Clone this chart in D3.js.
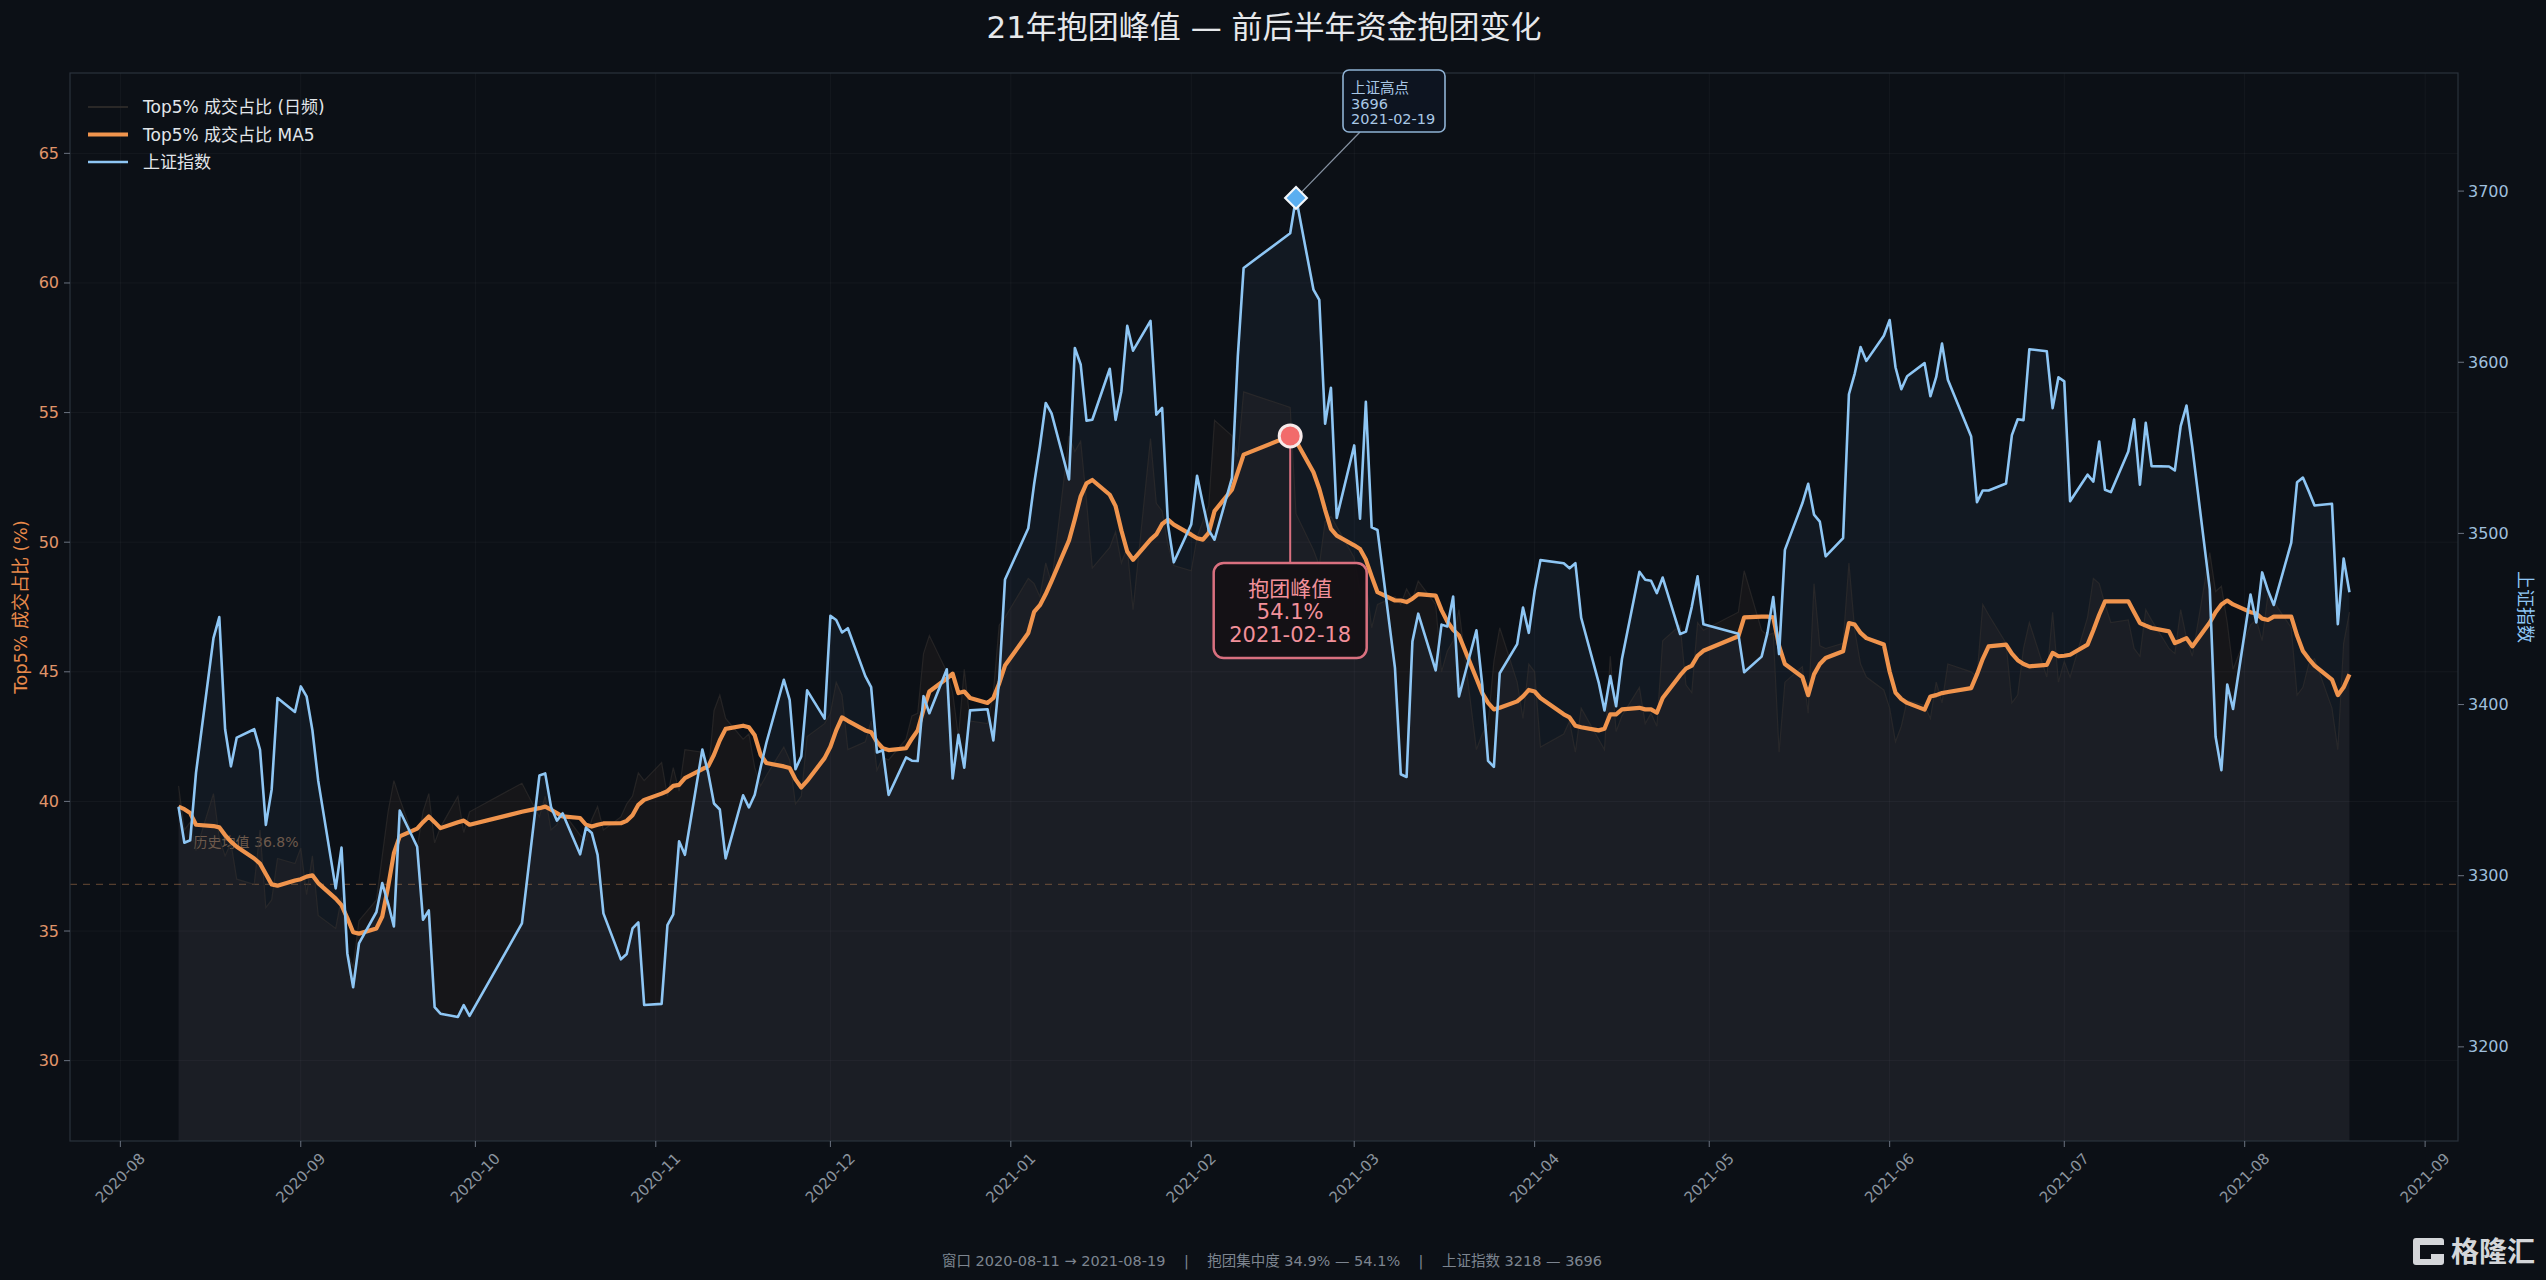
<!DOCTYPE html>
<html>
<head>
<meta charset="utf-8">
<script src="https://cdn.jsdelivr.net/npm/d3@7"></script>
<style>
body { margin: 0; background: #0c1016; }
text { font-family: "DejaVu Sans", "Noto Sans CJK SC", sans-serif; }
</style>
</head>
<body>
<script>
var w = 2546;
var h = 1280;
var plot = {left: 70, right: 2458, top: 73, bottom: 1141};

// trading days, 2020-08-11 .. 2021-08-19
var dates = [
"2020-08-11","2020-08-12","2020-08-13","2020-08-14","2020-08-17","2020-08-18","2020-08-19","2020-08-20","2020-08-21","2020-08-24","2020-08-25","2020-08-26","2020-08-27","2020-08-28","2020-08-31",
"2020-09-01","2020-09-02","2020-09-03","2020-09-04","2020-09-07","2020-09-08","2020-09-09","2020-09-10","2020-09-11","2020-09-14","2020-09-15","2020-09-16","2020-09-17","2020-09-18","2020-09-21","2020-09-22","2020-09-23","2020-09-24","2020-09-25","2020-09-28","2020-09-29","2020-09-30",
"2020-10-09","2020-10-12","2020-10-13","2020-10-14","2020-10-15","2020-10-16","2020-10-19","2020-10-20","2020-10-21","2020-10-22","2020-10-23","2020-10-26","2020-10-27","2020-10-28","2020-10-29","2020-10-30",
"2020-11-02","2020-11-03","2020-11-04","2020-11-05","2020-11-06","2020-11-09","2020-11-10","2020-11-11","2020-11-12","2020-11-13","2020-11-16","2020-11-17","2020-11-18","2020-11-19","2020-11-20","2020-11-23","2020-11-24","2020-11-25","2020-11-26","2020-11-27","2020-11-30",
"2020-12-01","2020-12-02","2020-12-03","2020-12-04","2020-12-07","2020-12-08","2020-12-09","2020-12-10","2020-12-11","2020-12-14","2020-12-15","2020-12-16","2020-12-17","2020-12-18","2020-12-21","2020-12-22","2020-12-23","2020-12-24","2020-12-25","2020-12-28","2020-12-29","2020-12-30","2020-12-31",
"2021-01-04","2021-01-05","2021-01-06","2021-01-07","2021-01-08","2021-01-11","2021-01-12","2021-01-13","2021-01-14","2021-01-15","2021-01-18","2021-01-19","2021-01-20","2021-01-21","2021-01-22","2021-01-25","2021-01-26","2021-01-27","2021-01-28","2021-01-29",
"2021-02-01","2021-02-02","2021-02-03","2021-02-04","2021-02-05","2021-02-08","2021-02-09","2021-02-10","2021-02-18","2021-02-19","2021-02-22","2021-02-23","2021-02-24","2021-02-25","2021-02-26",
"2021-03-01","2021-03-02","2021-03-03","2021-03-04","2021-03-05","2021-03-08","2021-03-09","2021-03-10","2021-03-11","2021-03-12","2021-03-15","2021-03-16","2021-03-17","2021-03-18","2021-03-19","2021-03-22","2021-03-23","2021-03-24","2021-03-25","2021-03-26","2021-03-29","2021-03-30","2021-03-31",
"2021-04-01","2021-04-02","2021-04-06","2021-04-07","2021-04-08","2021-04-09","2021-04-12","2021-04-13","2021-04-14","2021-04-15","2021-04-16","2021-04-19","2021-04-20","2021-04-21","2021-04-22","2021-04-23","2021-04-26","2021-04-27","2021-04-28","2021-04-29","2021-04-30",
"2021-05-06","2021-05-07","2021-05-10","2021-05-11","2021-05-12","2021-05-13","2021-05-14","2021-05-17","2021-05-18","2021-05-19","2021-05-20","2021-05-21","2021-05-24","2021-05-25","2021-05-26","2021-05-27","2021-05-28","2021-05-31",
"2021-06-01","2021-06-02","2021-06-03","2021-06-04","2021-06-07","2021-06-08","2021-06-09","2021-06-10","2021-06-11","2021-06-15","2021-06-16","2021-06-17","2021-06-18","2021-06-21","2021-06-22","2021-06-23","2021-06-24","2021-06-25","2021-06-28","2021-06-29","2021-06-30",
"2021-07-01","2021-07-02","2021-07-05","2021-07-06","2021-07-07","2021-07-08","2021-07-09","2021-07-12","2021-07-13","2021-07-14","2021-07-15","2021-07-16","2021-07-19","2021-07-20","2021-07-21","2021-07-22","2021-07-23","2021-07-26","2021-07-27","2021-07-28","2021-07-29","2021-07-30",
"2021-08-02","2021-08-03","2021-08-04","2021-08-05","2021-08-06","2021-08-09","2021-08-10","2021-08-11","2021-08-12","2021-08-13","2021-08-16","2021-08-17","2021-08-18","2021-08-19"
];

// 上证指数 close
var shIndex = [
3340.3,3319.3,3320.7,3360.1,3438.8,3451.1,3385.6,3363.9,3380.7,3385.6,3373.6,3329.7,3350.4,3403.8,3395.7,
3410.6,3404.8,3385.0,3355.4,3292.6,3316.4,3254.6,3234.8,3260.4,3278.8,3295.7,3283.9,3270.4,3338.1,3316.9,3274.3,3279.7,3223.2,3219.4,3217.5,3224.4,3218.1,
3272.1,3358.5,3359.8,3340.2,3332.2,3336.4,3312.5,3328.1,3325.0,3312.2,3278.0,3251.1,3254.3,3269.2,3272.7,3224.5,
3225.1,3271.1,3277.4,3320.1,3312.2,3373.7,3360.2,3342.2,3338.7,3310.1,3347.0,3339.9,3347.3,3363.1,3377.7,3414.5,3402.8,3362.3,3369.7,3408.3,3391.8,
3451.9,3449.4,3442.1,3444.6,3416.6,3410.2,3372.0,3373.3,3347.2,3369.1,3367.2,3367.0,3404.9,3394.9,3420.6,3356.8,3382.3,3363.1,3396.6,3397.3,3379.0,3414.5,3473.1,
3503.0,3528.7,3550.9,3576.2,3570.1,3531.5,3608.3,3598.7,3565.9,3566.4,3596.2,3566.3,3583.1,3621.3,3606.8,3624.2,3569.4,3573.3,3505.2,3483.1,
3505.3,3533.7,3517.3,3501.9,3496.3,3532.4,3603.5,3655.1,3675.4,3696.2,3642.4,3636.4,3564.1,3585.1,3509.1,
3551.4,3508.6,3576.9,3503.5,3502.0,3421.4,3359.3,3357.7,3436.8,3453.1,3420.0,3446.7,3445.6,3463.1,3404.7,3443.4,3411.5,3367.1,3363.6,3418.3,3435.3,3456.7,3441.9,
3466.3,3484.4,3482.6,3479.6,3482.6,3450.7,3413.0,3396.5,3416.6,3399.0,3426.6,3477.6,3472.9,3472.3,3465.1,3474.2,3441.2,3442.6,3457.1,3474.9,3446.9,
3441.3,3418.9,3428.0,3441.9,3462.8,3429.5,3490.4,3517.6,3529.0,3511.0,3506.9,3486.6,3497.3,3581.3,3593.4,3608.9,3600.8,3615.5,
3624.7,3597.1,3584.2,3591.8,3599.5,3580.1,3591.4,3610.9,3589.8,3556.6,3518.3,3525.1,3525.1,3529.2,3557.4,3566.7,3566.2,3607.6,3606.4,3573.2,3591.2,
3588.8,3518.8,3534.3,3530.3,3553.7,3525.5,3524.1,3547.8,3566.7,3528.5,3564.6,3539.3,3539.1,3536.8,3562.7,3574.7,3550.4,3467.4,3381.2,3361.6,3411.7,3397.4,
3464.3,3448.0,3477.2,3466.6,3458.2,3494.6,3529.9,3532.6,3524.7,3516.3,3517.3,3447.0,3485.3,3465.6
];

// Top5% 成交占比 MA5 (%)
var ma5 = [
39.8,39.7,39.55,39.1,39.05,39.0,38.7,38.45,38.25,37.8,37.6,37.2,36.8,36.75,36.95,
37.0,37.1,37.15,36.85,36.25,36.0,35.5,34.95,34.9,35.1,35.56,36.7,38.0,38.65,38.95,39.2,39.42,39.2,38.97,39.2,39.26,39.1,
39.6,39.74,39.8,39.68,39.55,39.42,39.36,39.1,39.03,39.1,39.15,39.16,39.25,39.47,39.87,40.06,
40.3,40.4,40.6,40.64,40.9,41.25,41.35,41.8,42.36,42.8,42.92,42.86,42.55,41.8,41.48,41.35,41.29,40.85,40.54,40.79,41.67,
42.11,42.74,43.24,43.11,42.74,42.67,42.3,42.05,41.98,42.05,42.42,42.74,43.55,44.24,44.74,44.93,44.18,44.24,43.99,43.8,43.99,44.55,45.24,
46.5,47.31,47.57,48.0,48.5,50.07,50.89,51.77,52.27,52.4,51.83,51.39,50.45,49.64,49.32,50.1,50.3,50.7,50.87,50.68,
50.29,50.15,50.1,50.36,51.2,52.03,52.7,53.38,54.1,53.9,52.7,52.06,51.25,50.51,50.25,
49.88,49.74,49.33,48.68,48.07,47.75,47.75,47.69,47.82,48.0,47.94,47.38,46.94,46.62,46.4,44.74,44.18,43.8,43.55,43.61,43.86,44.05,44.3,
44.24,43.99,43.36,43.24,42.92,42.86,42.74,42.8,43.36,43.36,43.55,43.61,43.55,43.55,43.42,43.99,44.87,45.12,45.24,45.62,45.81,
46.37,47.1,47.13,47.13,47.1,46.0,45.3,44.8,44.1,44.9,45.3,45.53,45.79,46.88,46.82,46.5,46.3,46.05,
45.0,44.2,43.95,43.8,43.54,44.05,44.1,44.18,44.22,44.37,44.9,45.5,45.98,46.05,45.7,45.45,45.3,45.21,45.27,45.73,45.6,
45.62,45.66,46.05,46.6,47.2,47.72,47.72,47.72,47.3,46.88,46.78,46.69,46.56,46.11,46.2,46.3,45.98,46.9,47.3,47.6,47.75,47.6,
47.3,47.25,47.05,47.0,47.13,47.13,46.4,45.8,45.5,45.24,44.7,44.1,44.4,44.9
];

// Top5% 成交占比 daily (%)
var daily = [
40.6,38.9,39.2,38.1,40.3,38.6,37.9,38.4,37.0,36.8,38.9,35.9,36.2,37.8,37.6,
38.2,36.4,37.9,35.6,35.1,36.3,34.2,33.6,35.4,36.2,37.9,39.6,40.8,40.1,38.2,39.6,40.3,38.4,39.0,40.2,38.8,39.6,
40.7,39.4,40.2,38.9,39.1,39.6,38.7,38.5,39.3,39.8,38.9,39.4,39.9,40.2,41.1,40.8,
41.5,40.2,41.3,40.4,42.0,41.9,41.0,43.5,44.1,43.2,42.4,42.6,41.3,40.6,41.0,42.1,41.6,39.9,40.2,42.5,43.0,
43.4,44.6,44.1,42.0,42.3,43.1,41.2,41.7,41.6,42.4,43.3,43.4,45.7,46.4,45.0,44.2,42.5,45.1,43.1,43.0,44.2,46.8,47.1,
48.6,48.4,47.9,49.2,48.4,54.1,53.5,53.9,51.6,49.0,49.8,50.4,49.2,49.8,47.4,54.0,51.5,51.2,49.9,49.1,
48.9,50.2,50.8,51.4,54.7,54.1,53.3,55.8,55.2,51.1,49.7,49.1,50.8,51.0,50.6,
49.4,48.1,48.5,46.7,47.6,47.9,47.6,48.2,47.8,48.5,47.6,45.0,45.8,46.2,47.4,42.0,42.6,43.0,45.4,46.7,44.6,43.2,45.3,
45.0,42.1,42.6,43.1,41.9,43.6,42.4,42.0,45.6,42.7,43.3,44.4,43.0,43.4,42.9,46.2,46.8,44.5,44.2,46.9,46.6,
47.3,48.9,46.6,46.4,46.5,41.9,44.6,45.2,43.4,48.4,46.0,45.9,46.1,49.2,46.6,45.3,44.8,44.3,
43.6,42.3,42.9,43.9,43.7,43.2,44.6,43.8,45.3,45.0,44.8,47.6,47.2,46.1,43.8,44.1,45.9,46.9,44.8,47.3,44.6,
45.4,44.8,47.1,48.6,48.4,47.6,46.9,47.0,45.9,45.6,47.4,47.0,45.9,45.7,47.4,46.3,45.6,49.6,48.1,48.3,46.9,45.1,
46.8,47.0,46.2,48.0,47.7,46.7,44.1,44.4,45.3,45.5,43.6,42.0,46.1,47.3
];

var leftTicks = [30, 35, 40, 45, 50, 55, 60, 65];
var rightTicks = [3200, 3300, 3400, 3500, 3600, 3700];
var monthTicks = ["2020-08","2020-09","2020-10","2020-11","2020-12","2021-01","2021-02","2021-03","2021-04","2021-05","2021-06","2021-07","2021-08","2021-09"];
var legendLabels = ["Top5% 成交占比 (日频)", "Top5% 成交占比 MA5", "上证指数"];

var peakDate = "2021-02-18", peakVal = 54.1;
var highDate = "2021-02-19", highVal = 3696;
var avgVal = 36.8;

var parseDay = d3.utcParse("%Y-%m-%d");
var parseMonth = d3.utcParse("%Y-%m");

var data = dates.map(function(d, i) {
    return {date: parseDay(d), sh: shIndex[i], ma5: ma5[i], daily: daily[i]};
});

var svg = d3.select("body")
    .append("svg")
    .attr("width", w)
    .attr("height", h);

svg.append("rect").attr("width", w).attr("height", h).attr("fill", "#0c1016");

// 5% margin on both ends of the date range
var pad = 18.65 * 864e5;
var xScale = d3.scaleUtc()
    .domain([new Date(data[0].date.getTime() - pad), new Date(data[data.length - 1].date.getTime() + pad)])
    .range([plot.left, plot.right]);

var yLeft = d3.scaleLinear()
    .domain([26.9, 68.1])
    .range([plot.bottom, plot.top]);

var yRight = d3.scaleLinear()
    .domain([3145, 3769])
    .range([plot.bottom, plot.top]);

svg.append("clipPath").attr("id", "clip")
    .append("rect")
    .attr("x", plot.left).attr("y", plot.top)
    .attr("width", plot.right - plot.left).attr("height", plot.bottom - plot.top);

//grid
var grid = svg.append("g");
grid.selectAll(".vg")
    .data(monthTicks)
    .enter()
    .append("line")
    .attr("x1", d => xScale(parseMonth(d)))
    .attr("x2", d => xScale(parseMonth(d)))
    .attr("y1", plot.top)
    .attr("y2", plot.bottom)
    .attr("stroke", "#ffffff")
    .attr("stroke-opacity", 0.04);

grid.selectAll(".hg")
    .data(leftTicks)
    .enter()
    .append("line")
    .attr("x1", plot.left)
    .attr("x2", plot.right)
    .attr("y1", d => yLeft(d))
    .attr("y2", d => yLeft(d))
    .attr("stroke", "#ffffff")
    .attr("stroke-opacity", 0.04);

var g = svg.append("g").attr("clip-path", "url(#clip)");

//areas
g.append("path")
    .datum(data)
    .attr("fill", "#d08a5a")
    .attr("fill-opacity", 0.05)
    .attr("d", d3.area()
        .x(d => xScale(d.date))
        .y0(plot.bottom)
        .y1(d => yLeft(d.daily)));

g.append("path")
    .datum(data)
    .attr("fill", "#6fa8e8")
    .attr("fill-opacity", 0.06)
    .attr("d", d3.area()
        .x(d => xScale(d.date))
        .y0(plot.bottom)
        .y1(d => yRight(d.sh)));

//average line
g.append("line")
    .attr("x1", plot.left)
    .attr("x2", plot.right)
    .attr("y1", yLeft(avgVal))
    .attr("y2", yLeft(avgVal))
    .attr("stroke", "#b0784c")
    .attr("stroke-opacity", 0.45)
    .attr("stroke-width", 1.3)
    .attr("stroke-dasharray", "7,6");

g.append("text")
    .text("历史均值 " + avgVal.toFixed(1) + "%")
    .attr("x", xScale(data[0].date) + 15)
    .attr("y", yLeft(avgVal) - 37)
    .attr("font-size", 14)
    .attr("fill", "#6e5a4c");

//daily line
g.append("path")
    .datum(data)
    .attr("fill", "none")
    .attr("stroke", "#34312e")
    .attr("stroke-opacity", 0.6)
    .attr("stroke-width", 1.2)
    .attr("d", d3.line()
        .x(d => xScale(d.date))
        .y(d => yLeft(d.daily)));

//ma5 line
g.append("path")
    .datum(data)
    .attr("fill", "none")
    .attr("stroke", "#f0944d")
    .attr("stroke-width", 4.2)
    .attr("stroke-linejoin", "round")
    .attr("d", d3.line()
        .x(d => xScale(d.date))
        .y(d => yLeft(d.ma5)));

//index line
g.append("path")
    .datum(data)
    .attr("fill", "none")
    .attr("stroke", "#8ec6f4")
    .attr("stroke-width", 2.6)
    .attr("stroke-linejoin", "round")
    .attr("d", d3.line()
        .x(d => xScale(d.date))
        .y(d => yRight(d.sh)));

//frame
svg.append("rect")
    .attr("x", plot.left).attr("y", plot.top)
    .attr("width", plot.right - plot.left).attr("height", plot.bottom - plot.top)
    .attr("fill", "none")
    .attr("stroke", "#2b323d")
    .attr("stroke-width", 1.2);

//axes
var xAxis = svg.append("g");
xAxis.selectAll(".tick")
    .data(monthTicks)
    .enter()
    .append("line")
    .attr("x1", d => xScale(parseMonth(d)))
    .attr("x2", d => xScale(parseMonth(d)))
    .attr("y1", plot.bottom)
    .attr("y2", plot.bottom + 6)
    .attr("stroke", "#6b7380");

xAxis.selectAll(".lbl")
    .data(monthTicks)
    .enter()
    .append("text")
    .text(d => d)
    .attr("font-size", 15)
    .attr("fill", "#8b949e")
    .attr("text-anchor", "middle")
    .attr("dominant-baseline", "central")
    .attr("transform", d => "translate(" + xScale(parseMonth(d)) + "," + (plot.bottom + 37) + ") rotate(-45)");

var lAxis = svg.append("g");
lAxis.selectAll("line")
    .data(leftTicks)
    .enter()
    .append("line")
    .attr("x1", plot.left - 6)
    .attr("x2", plot.left)
    .attr("y1", d => yLeft(d))
    .attr("y2", d => yLeft(d))
    .attr("stroke", "#6b7380");
lAxis.selectAll("text")
    .data(leftTicks)
    .enter()
    .append("text")
    .text(d => d)
    .attr("x", plot.left - 11)
    .attr("y", d => yLeft(d))
    .attr("text-anchor", "end")
    .attr("dominant-baseline", "central")
    .attr("font-size", 16)
    .attr("fill", "#e0956a");

var rAxis = svg.append("g");
rAxis.selectAll("line")
    .data(rightTicks)
    .enter()
    .append("line")
    .attr("x1", plot.right)
    .attr("x2", plot.right + 6)
    .attr("y1", d => yRight(d))
    .attr("y2", d => yRight(d))
    .attr("stroke", "#6b7380");
rAxis.selectAll("text")
    .data(rightTicks)
    .enter()
    .append("text")
    .text(d => d)
    .attr("x", plot.right + 10)
    .attr("y", d => yRight(d))
    .attr("dominant-baseline", "central")
    .attr("font-size", 16)
    .attr("fill", "#9fbfdc");

//axis titles
svg.append("text")
    .text("Top5% 成交占比 (%)")
    .attr("transform", "translate(20," + (plot.top + plot.bottom) / 2 + ") rotate(-90)")
    .attr("text-anchor", "middle")
    .attr("dominant-baseline", "central")
    .attr("font-size", 18)
    .attr("fill", "#e8894a");

svg.append("text")
    .text("上证指数")
    .attr("transform", "translate(2525," + (plot.top + plot.bottom) / 2 + ") rotate(90)")
    .attr("text-anchor", "middle")
    .attr("dominant-baseline", "central")
    .attr("font-size", 18)
    .attr("fill", "#8ec6f4");

//peak annotation (MA5)
var px = xScale(parseDay(peakDate));
var py = yLeft(peakVal);
var boxW = 153, boxH = 95, boxTop = 563;

svg.append("line")
    .attr("x1", px).attr("x2", px)
    .attr("y1", py).attr("y2", boxTop)
    .attr("stroke", "#d9707f")
    .attr("stroke-width", 2);

svg.append("rect")
    .attr("x", px - boxW / 2).attr("y", boxTop)
    .attr("width", boxW).attr("height", boxH)
    .attr("rx", 10)
    .attr("fill", "#140f14")
    .attr("fill-opacity", 0.9)
    .attr("stroke", "#d9707f")
    .attr("stroke-width", 2.5);

var peakText = svg.append("text")
    .attr("text-anchor", "middle")
    .attr("font-size", 21)
    .attr("fill", "#f2909a");
["抱团峰值", peakVal.toFixed(1) + "%", peakDate].forEach(function(s, i) {
    peakText.append("tspan")
        .text(s)
        .attr("x", px)
        .attr("y", boxTop + 33 + i * 23);
});

svg.append("circle")
    .attr("cx", px).attr("cy", py)
    .attr("r", 11)
    .attr("fill", "#f26b6b")
    .attr("stroke", "#f7eaea")
    .attr("stroke-width", 3);

//index high annotation
var hx = xScale(parseDay(highDate));
var hy = yRight(highVal);
var hb = {x: 1343, y: 70, w: 102, h: 62};

svg.append("line")
    .attr("x1", hx).attr("y1", hy)
    .attr("x2", hb.x + 17).attr("y2", hb.y + hb.h)
    .attr("stroke", "#8793a3")
    .attr("stroke-width", 1.2);

svg.append("rect")
    .attr("x", hb.x).attr("y", hb.y)
    .attr("width", hb.w).attr("height", hb.h)
    .attr("rx", 6)
    .attr("fill", "#0d1420")
    .attr("stroke", "#8fb2d4")
    .attr("stroke-width", 1.6);

var highText = svg.append("text")
    .attr("font-size", 14.5)
    .attr("fill", "#a9c8e6");
["上证高点", String(highVal), highDate].forEach(function(s, i) {
    highText.append("tspan")
        .text(s)
        .attr("x", hb.x + 8)
        .attr("y", hb.y + 23 + i * 15.5);
});

svg.append("path")
    .attr("transform", "translate(" + hx + "," + hy + ")")
    .attr("d", d3.symbol().type(d3.symbolDiamond2).size(300)())
    .attr("fill", "#5aaef0")
    .attr("stroke", "#f2f6fa")
    .attr("stroke-width", 2.2);

//legend
var legendColors = ["#34312e", "#f0944d", "#8ec6f4"];
var legendWidths = [1.5, 4, 2.6];
var legend = svg.append("g");
legendLabels.forEach(function(s, i) {
    var ly = 107 + i * 27.5;
    legend.append("line")
        .attr("x1", 88).attr("x2", 128)
        .attr("y1", ly).attr("y2", ly)
        .attr("stroke", legendColors[i])
        .attr("stroke-width", legendWidths[i]);
    legend.append("text")
        .text(s)
        .attr("x", 143)
        .attr("y", ly)
        .attr("dominant-baseline", "central")
        .attr("font-size", 17)
        .attr("fill", "#e2e6ea");
});

//title
svg.append("text")
    .text("21年抱团峰值 — 前后半年资金抱团变化")
    .attr("x", (plot.left + plot.right) / 2)
    .attr("y", 27)
    .attr("text-anchor", "middle")
    .attr("dominant-baseline", "central")
    .attr("font-size", 31)
    .attr("fill", "#e6e8eb");

//footer
svg.append("text")
    .text("窗口 2020-08-11 → 2021-08-19    |    抱团集中度 " + d3.min(ma5).toFixed(1) + "% — " + d3.max(ma5).toFixed(1) + "%    |    上证指数 " + Math.round(d3.min(shIndex)) + " — " + Math.round(d3.max(shIndex)))
    .style("white-space", "pre")
    .attr("x", 1272)
    .attr("y", 1261)
    .attr("text-anchor", "middle")
    .attr("dominant-baseline", "central")
    .attr("font-size", 14.5)
    .attr("fill", "#7d8590");

//watermark
var wm = svg.append("g").attr("transform", "translate(2413,1238)");
wm.append("rect").attr("width", 31).attr("height", 27).attr("rx", 3).attr("fill", "#d4d6d9");
wm.append("rect").attr("x", 7).attr("y", 7).attr("width", 24).attr("height", 9).attr("fill", "#0c1016");
wm.append("rect").attr("x", 7).attr("y", 16).attr("width", 11).attr("height", 5).attr("fill", "#0c1016");
wm.append("text")
    .text("格隆汇")
    .attr("x", 38)
    .attr("y", 14)
    .attr("dominant-baseline", "central")
    .attr("font-size", 28)
    .attr("font-weight", "bold")
    .attr("fill", "#d4d6d9");
</script>
</body>
</html>
